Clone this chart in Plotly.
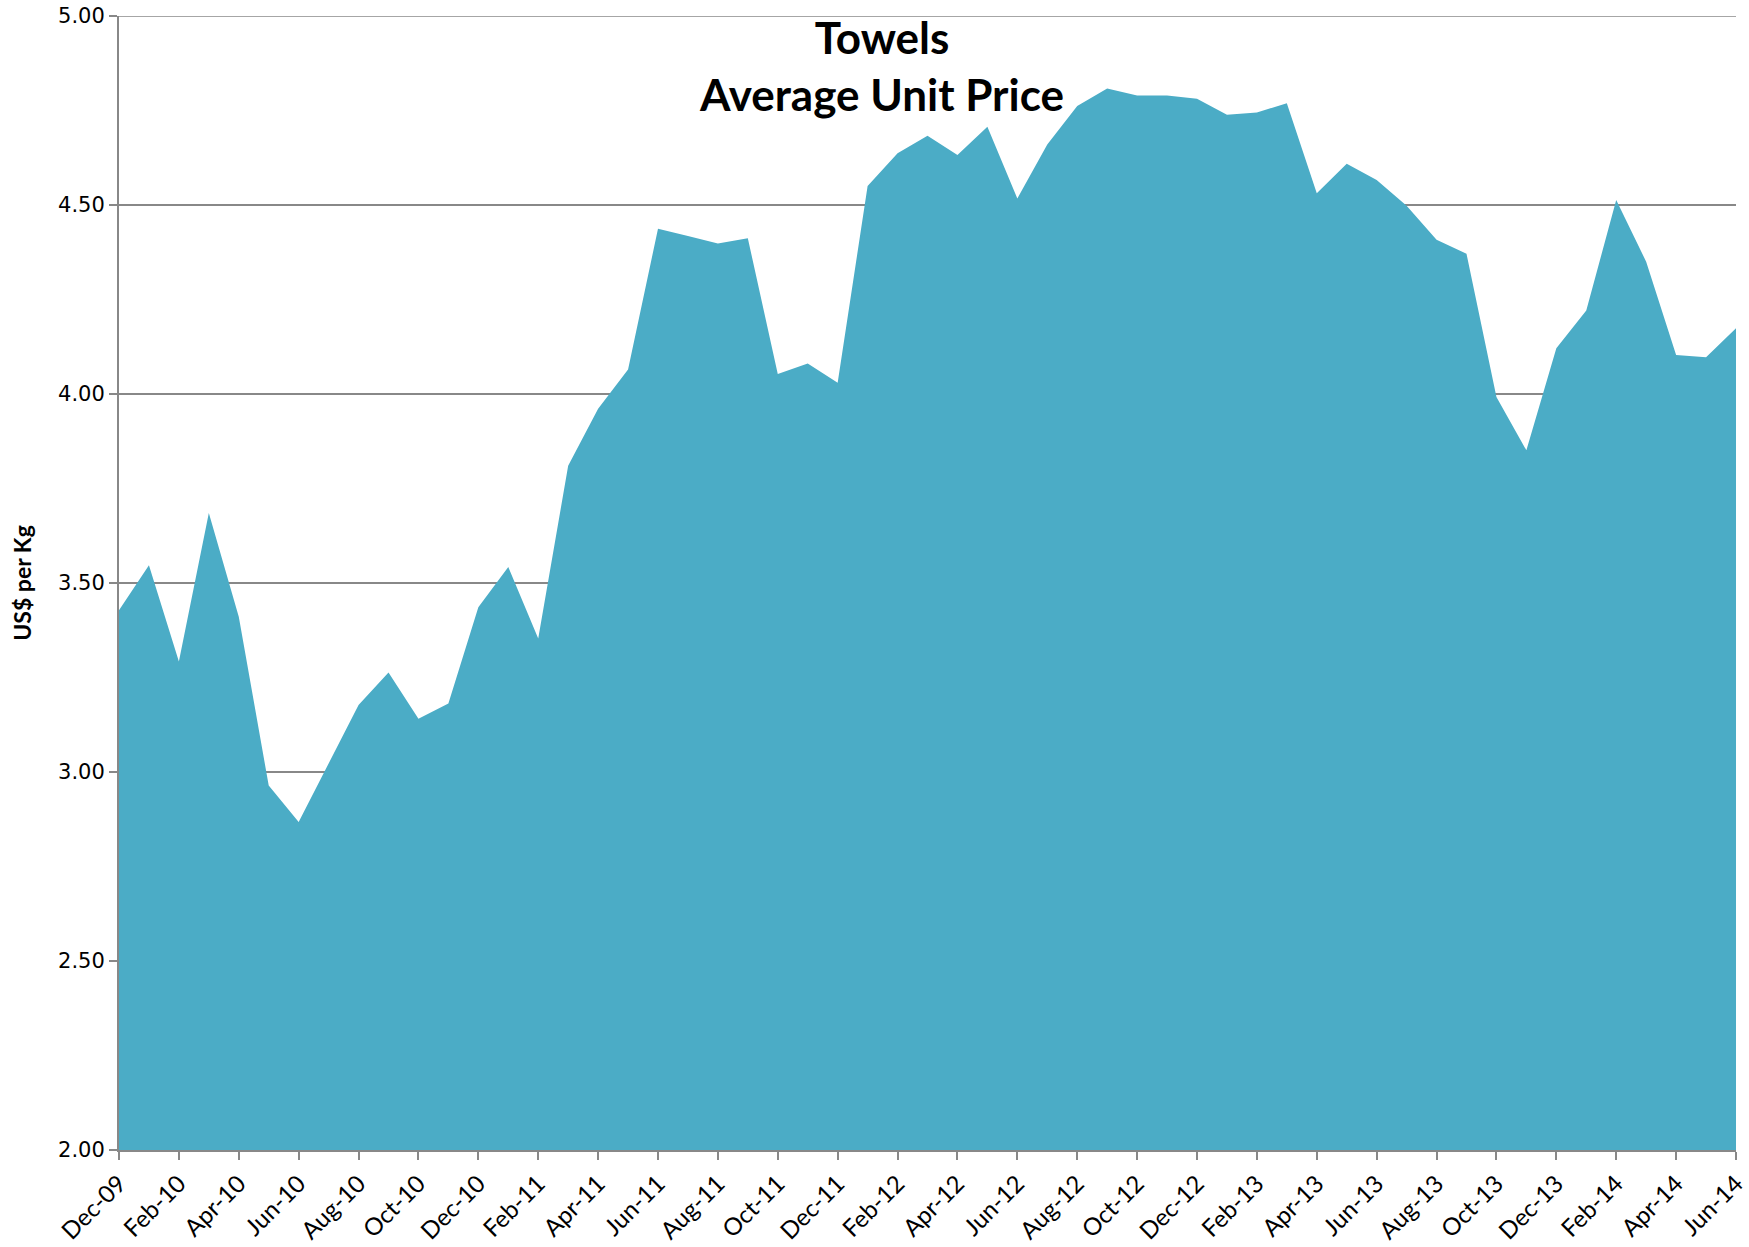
import plotly.graph_objects as go

months = ["Dec-09","Jan-10","Feb-10","Mar-10","Apr-10","May-10","Jun-10","Jul-10","Aug-10","Sep-10","Oct-10","Nov-10",
          "Dec-10","Jan-11","Feb-11","Mar-11","Apr-11","May-11","Jun-11","Jul-11","Aug-11","Sep-11","Oct-11","Nov-11",
          "Dec-11","Jan-12","Feb-12","Mar-12","Apr-12","May-12","Jun-12","Jul-12","Aug-12","Sep-12","Oct-12","Nov-12",
          "Dec-12","Jan-13","Feb-13","Mar-13","Apr-13","May-13","Jun-13","Jul-13","Aug-13","Sep-13","Oct-13","Nov-13",
          "Dec-13","Jan-14","Feb-14","Mar-14","Apr-14","May-14","Jun-14"]

price = [3.428, 3.547, 3.292, 3.685, 3.411, 2.964, 2.868, 3.023, 3.177, 3.263, 3.141, 3.181,
         3.436, 3.542, 3.353, 3.810, 3.961, 4.065, 4.437, 4.418, 4.398, 4.412, 4.053, 4.081,
         4.030, 4.550, 4.637, 4.683, 4.632, 4.707, 4.517, 4.660, 4.762, 4.808, 4.790, 4.790,
         4.781, 4.739, 4.745, 4.769, 4.531, 4.609, 4.566, 4.498, 4.408, 4.371, 3.992, 3.851,
         4.121, 4.221, 4.513, 4.350, 4.103, 4.097, 4.174]

y_ticks = [2.0, 2.5, 3.0, 3.5, 4.0, 4.5, 5.0]
y_ticktext = ["2.00", "2.50", "3.00", "3.50", "4.00", "4.50", "5.00"]

x_idx = list(range(len(months)))
x_tickvals = x_idx[::2]
x_ticktext = months[::2]

fig = go.Figure()
fig.add_trace(go.Scatter(
    x=x_idx, y=price, mode="lines", fill="tozeroy",
    line=dict(width=0, color="#4BACC6"),
    fillcolor="#4BACC6", hoverinfo="skip", showlegend=False,
))

fig.update_layout(
    width=1749, height=1247,
    margin=dict(l=119, r=13, t=16, b=97),
    paper_bgcolor="white", plot_bgcolor="white",
    font=dict(family="Lato, 'Open Sans', sans-serif", color="black"),
    annotations=[dict(
        text="<b>Towels</b><br><b>Average Unit Price</b>",
        xref="paper", yref="paper", x=0.4715, y=1.0, xanchor="center", yanchor="top",
        yshift=7,
        showarrow=False, font=dict(size=44, family="Lato, 'Open Sans', sans-serif", color="black"),
        align="center",
    )],
    shapes=[dict(
        type="line", xref="paper", yref="y", x0=0, x1=1, y0=y_ticks[-1], y1=y_ticks[-1],
        line=dict(color="#888888", width=1.5), layer="below",
    )],
)

fig.update_xaxes(
    range=[0, len(months) - 1], tickvals=x_tickvals, ticktext=x_ticktext,
    tickangle=-45, tickfont=dict(size=24, family="Lato, 'Open Sans', sans-serif", color="black"),
    ticklabeloverflow="allow", automargin=False,
    showgrid=False, showline=True, linecolor="#888888", linewidth=2,
    ticks="outside", ticklen=8, tickcolor="#888888", tickwidth=1.5, zeroline=False,
)
fig.update_yaxes(
    range=[2.0, 5.0], tickvals=y_ticks, ticktext=y_ticktext,
    tickfont=dict(size=21, family="'DejaVu Sans', sans-serif", color="black"),
    ticklabeloverflow="allow", automargin=False,
    showgrid=True, gridcolor="#888888", gridwidth=1.5,
    showline=True, linecolor="#888888", linewidth=2,
    ticks="outside", ticklen=8, tickcolor="#888888", tickwidth=1.5, zeroline=False,
    title=dict(text="<b>US$ per Kg</b>", font=dict(size=23, family="Lato, 'Open Sans', sans-serif"), standoff=20),
)

fig.write_html("out.html", config={"displayModeBar": False},
               post_script="document.body.style.margin='0';document.body.style.overflow='hidden';")
